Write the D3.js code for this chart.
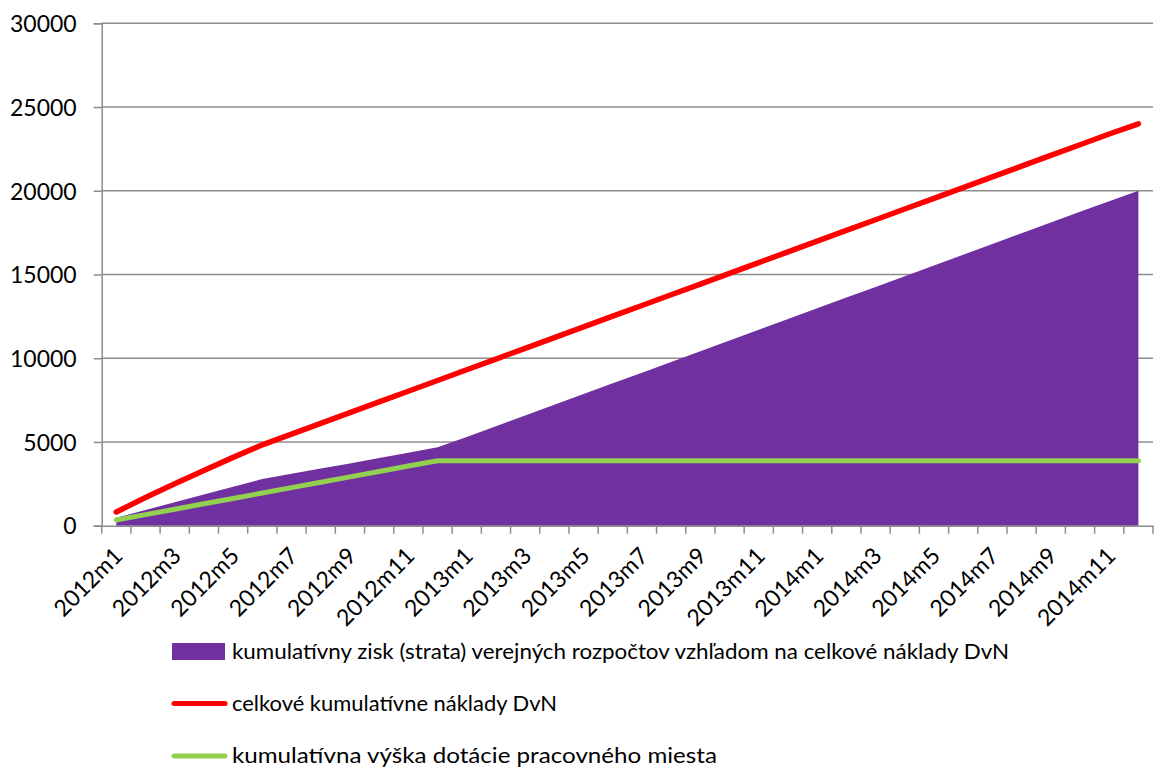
<!DOCTYPE html>
<html>
<head>
<meta charset="utf-8">
<script src="https://cdn.jsdelivr.net/npm/d3@7/dist/d3.min.js"></script>
<style>
  html, body { margin: 0; padding: 0; background: #fff; }
  svg { display: block; }
  text { font-family: Lato, "Open Sans", sans-serif; fill: #000; }
</style>
</head>
<body>
<svg id="chart" width="1155" height="767"></svg>
<script>
// ---- data ----
const categories = [
  "2012m1","2012m2","2012m3","2012m4","2012m5","2012m6","2012m7","2012m8","2012m9","2012m10","2012m11","2012m12",
  "2013m1","2013m2","2013m3","2013m4","2013m5","2013m6","2013m7","2013m8","2013m9","2013m10","2013m11","2013m12",
  "2014m1","2014m2","2014m3","2014m4","2014m5","2014m6","2014m7","2014m8","2014m9","2014m10","2014m11","2014m12"
];
const purpleValues = [
  480, 940, 1400, 1860, 2330, 2790, 3100, 3410, 3720, 4040, 4360, 4680,
  5300, 5940, 6580, 7220, 7860, 8500, 9140, 9780, 10420, 11060, 11700, 12340,
  12980, 13620, 14260, 14900, 15540, 16180, 16820, 17460, 18100, 18740, 19380, 20000
];
const redValues = [
  820, 1680, 2500, 3300, 4080, 4830, 5470, 6110, 6750, 7390, 8030, 8670,
  9310, 9950, 10590, 11230, 11870, 12510, 13150, 13790, 14430, 15070, 15710, 16350,
  16990, 17630, 18270, 18910, 19550, 20190, 20830, 21470, 22110, 22750, 23390, 24000
];
const greenValues = [
  340, 662, 984, 1306, 1628, 1950, 2272, 2594, 2916, 3238, 3560, 3880,
  3880, 3880, 3880, 3880, 3880, 3880, 3880, 3880, 3880, 3880, 3880, 3880,
  3880, 3880, 3880, 3880, 3880, 3880, 3880, 3880, 3880, 3880, 3880, 3880
];
const yTicks = [0, 5000, 10000, 15000, 20000, 25000, 30000];
const xTickLabels = ["2012m1","2012m3","2012m5","2012m7","2012m9","2012m11",
  "2013m1","2013m3","2013m5","2013m7","2013m9","2013m11",
  "2014m1","2014m3","2014m5","2014m7","2014m9","2014m11"];
const legendLabels = [
  "kumulatívny zisk (strata) verejných rozpočtov vzhľadom na celkové náklady DvN",
  "celkové kumulatívne náklady DvN",
  "kumulatívna výška dotácie pracovného miesta"
];

// ---- layout ----
const plotLeft = 101.7, plotRight = 1153, plotTop = 23.3, plotBottom = 525.7;
const colors = { purple: "#7030A0", red: "#FF0000", green: "#92D050", grid: "#8C8C8C" };

const svg = d3.select("#chart");

const xBand = d3.scaleBand().domain(categories).range([plotLeft, plotRight]).padding(0);
const xc = d => xBand(d) + xBand.bandwidth() / 2;
const y = d3.scaleLinear().domain([0, 30000]).range([plotBottom, plotTop]);

// gridlines
svg.append("g").selectAll("line").data(yTicks.filter(t => t > 0)).join("line")
  .attr("x1", plotLeft).attr("x2", plotRight)
  .attr("y1", d => y(d)).attr("y2", d => y(d))
  .attr("stroke", colors.grid).attr("stroke-width", 1.5);

// y axis
const yAxis = svg.append("g").attr("transform", `translate(${plotLeft},0)`)
  .call(d3.axisLeft(y).tickValues(yTicks).tickSize(8).tickPadding(17).tickFormat(d3.format("d")));
yAxis.select(".domain").attr("stroke", colors.grid).attr("stroke-width", 1.5);
yAxis.selectAll(".tick line").attr("stroke", colors.grid).attr("stroke-width", 1.5);
yAxis.selectAll(".tick text").attr("font-size", 23).attr("font-family", "Lato").attr("fill", "#000").attr("dy", "0.36em");

// area
const area = d3.area()
  .x((d, i) => xc(categories[i]))
  .y0(y(0))
  .y1(d => y(d));
svg.append("path").datum(purpleValues).attr("d", area).attr("fill", colors.purple);

// x axis
const xAxis = svg.append("g").attr("transform", `translate(0,${plotBottom})`)
  .call(d3.axisBottom(xBand).tickValues([]).tickSizeOuter(0));
xAxis.select(".domain").attr("stroke", colors.grid).attr("stroke-width", 1.5);
const boundaries = categories.map(c => xBand(c)).concat([plotRight]);
xAxis.selectAll("line.tk").data(boundaries).join("line").attr("class", "tk")
  .attr("x1", d => d).attr("x2", d => d).attr("y1", 0).attr("y2", 8)
  .attr("stroke", colors.grid).attr("stroke-width", 1.5);
xAxis.selectAll("text.lbl").data(xTickLabels).join("text").attr("class", "lbl")
  .attr("transform", d => `translate(${xc(d) + 2},${26}) rotate(-45)`)
  .attr("text-anchor", "end")
  .attr("dy", "0.35em")
  .attr("font-size", 23)
  .text(d => d);

// lines
const line = d3.line().x((d, i) => xc(categories[i])).y(d => y(d));
svg.append("path").datum(greenValues).attr("d", line)
  .attr("fill", "none").attr("stroke", colors.green).attr("stroke-width", 5)
  .attr("stroke-linecap", "round").attr("stroke-linejoin", "round");
svg.append("path").datum(redValues).attr("d", line)
  .attr("fill", "none").attr("stroke", colors.red).attr("stroke-width", 5.5)
  .attr("stroke-linecap", "round").attr("stroke-linejoin", "round");

// legend
const legendY = [651.5, 703.5, 756];
const legendWidths = [777, 325, 485];
const lg = svg.append("g");
lg.append("rect").attr("x", 172).attr("y", legendY[0] - 8.5).attr("width", 53).attr("height", 17).attr("fill", colors.purple);
lg.append("line").attr("x1", 174).attr("x2", 225).attr("y1", legendY[1]).attr("y2", legendY[1])
  .attr("stroke", colors.red).attr("stroke-width", 5).attr("stroke-linecap", "round");
lg.append("line").attr("x1", 174).attr("x2", 225).attr("y1", legendY[2]).attr("y2", legendY[2])
  .attr("stroke", colors.green).attr("stroke-width", 5).attr("stroke-linecap", "round");
lg.selectAll("text").data(legendLabels).join("text")
  .attr("x", 232).attr("y", (d, i) => legendY[i]).attr("dy", "0.35em")
  .attr("font-size", 21)
  .attr("textLength", (d, i) => legendWidths[i]).attr("lengthAdjust", "spacingAndGlyphs")
  .text(d => d);
</script>
</body>
</html>
